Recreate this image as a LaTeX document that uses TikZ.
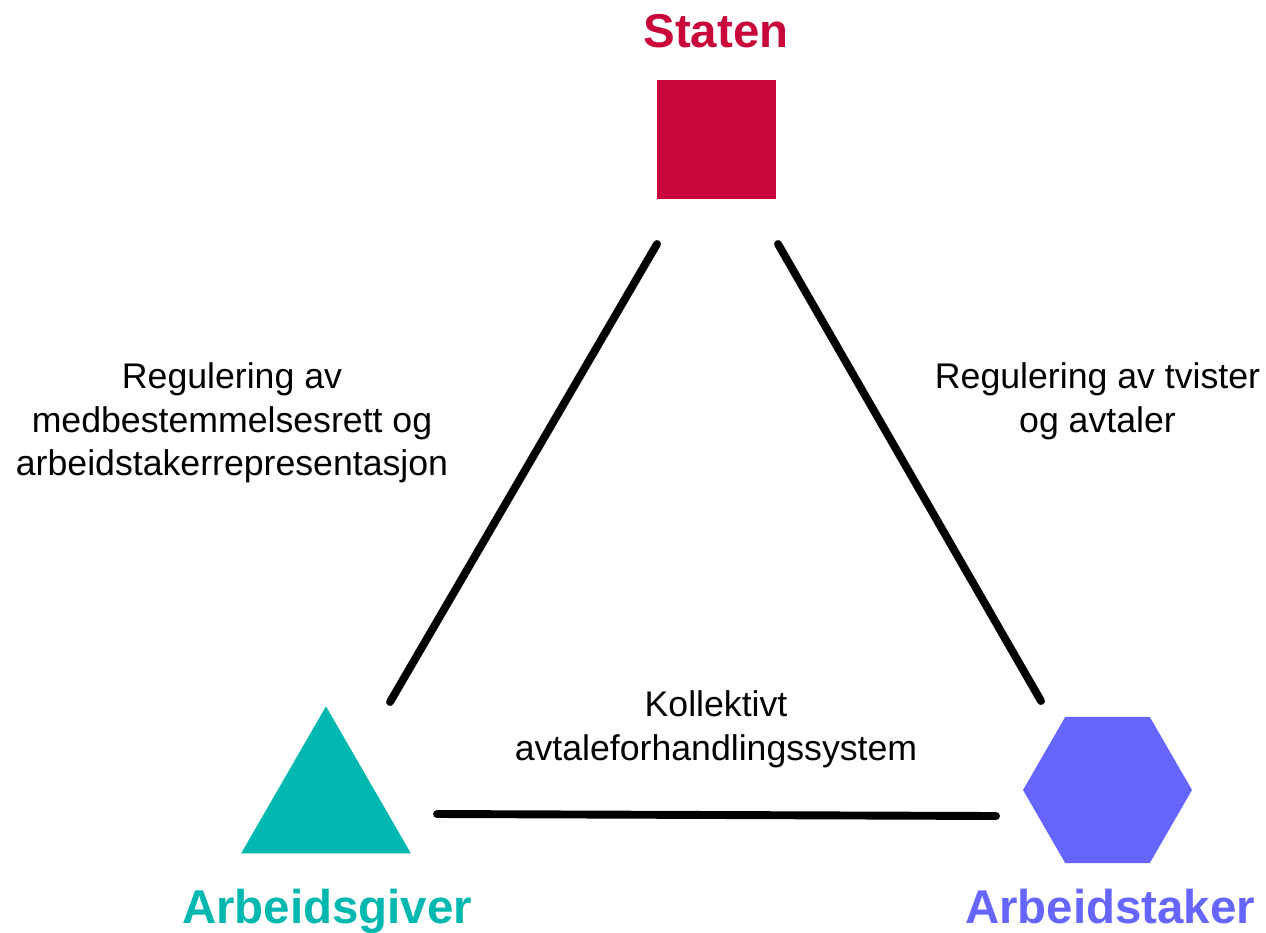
\documentclass[tikz,border=0pt]{standalone}
\usepackage{fontspec}
\setmainfont{Liberation Sans}
\usetikzlibrary{shapes.geometric,positioning}
\definecolor{statred}{HTML}{C8063A}
\definecolor{giverteal}{HTML}{00B8B0}
\definecolor{takerblue}{HTML}{6666FF}
\tikzset{
	party/.style={
		font=\fontsize{27}{32}\selectfont\bfseries,
		anchor=base,
		inner sep=0pt},
	relation/.style={
		font=\fontsize{20.3}{24.9}\selectfont,
		align=center,
		inner sep=0pt},
	symbol/.style={inner sep=0pt, outer sep=0pt},
	link/.style={draw, line width=4.5pt, line cap=round},
}

\begin{document}
\begin{tikzpicture}[x=0.02cm,y=-0.02cm]
\useasboundingbox (0,0) rectangle (1266,932);

\node[symbol, rectangle, fill=statred, minimum size=2.38cm] (stat) at (716.5,139.5) {};
\node[symbol, regular polygon, regular polygon sides=3, fill=giverteal, minimum size=3.92cm] (giver) at (326,804.3) {};
\node[symbol, regular polygon, regular polygon sides=6, fill=takerblue, minimum size=3.38cm] (taker) at (1107.5,790) {};

\node[party, text=statred] (statname) at (716,48) {Staten};
\node[party, text=giverteal] (givername) at (327,923) {Arbeidsgiver};
\node[party, text=takerblue] (takername) at (1110,923) {Arbeidstaker};

\node[relation] (lawleft) at (232,423) {Regulering av\\medbestemmelsesrett og\\arbeidstakerrepresentasjon};
\node[relation] (lawright) at (1097.5,401) {Regulering av tvister\\og avtaler};
\node[relation] (bargain) at (716,729) {Kollektivt\\avtaleforhandlingssystem};

\coordinate (statleft) at (657,244);
\coordinate (giverup) at (390,702);
\coordinate (statright) at (778,244);
\coordinate (takerup) at (1041,701);
\coordinate (giverright) at (437,814);
\coordinate (takerleft) at (996,816);

\draw[link] (statleft) -- (giverup);
\draw[link] (statright) -- (takerup);
\draw[link] (giverright) -- (takerleft);
\end{tikzpicture}
\end{document}
